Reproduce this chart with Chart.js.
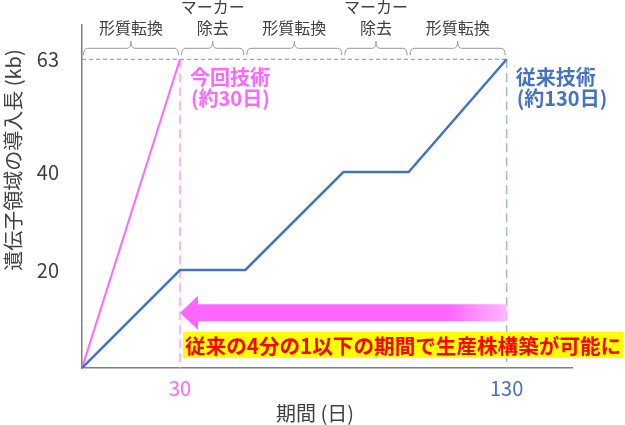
<!DOCTYPE html>
<html>
<head>
<meta charset="utf-8">
<script src="https://cdn.jsdelivr.net/npm/chart.js@4.4.0/dist/chart.umd.min.js"></script>
<style>
  html, body { margin: 0; padding: 0; background: #fff; }
  #wrap { width: 625px; height: 425px; }
</style>
</head>
<body>
<div id="wrap"><canvas id="chart"></canvas></div>
<script>
// data
const phaseDays = [0, 30, 50, 80, 100, 130];
const phaseLabels = [['形質転換'], ['マーカー', '除去'], ['形質転換'], ['マーカー', '除去'], ['形質転換']];
const newDays = [0, 30];
const newKb = [0, 63];
const oldDays = [0, 30, 50, 80, 100, 130];
const oldKb = [0, 20, 20, 40, 40, 63];
const yTicks = [20, 40, 63];
const xTicks = [30, 130];

const PINK = '#ff66ff';
const BLUE = '#4472c4';
const GREY = '#404040';
const FONT = "'Noto Sans CJK JP', 'Noto Sans', sans-serif";

// dashed guides, brackets, arrow and notes
const overlay = {
  id: 'overlay',
  beforeDatasetsDraw(chart) {
    const ctx = chart.ctx, x = chart.scales.x, y = chart.scales.y;
    const top = y.getPixelForValue(63), bottom = y.getPixelForValue(0);
    ctx.save();
    ctx.lineWidth = 1;
    ctx.strokeStyle = '#909090';
    ctx.setLineDash([4, 3]);
    ctx.beginPath();
    ctx.moveTo(x.getPixelForValue(0), top);
    ctx.lineTo(x.getPixelForValue(130), top);
    ctx.stroke();

    ctx.lineWidth = 1.5;
    ctx.setLineDash([9, 5]);
    [[30, '#ff9cff'], [130, '#9fb6df']].forEach(([d, c]) => {
      ctx.strokeStyle = c;
      ctx.beginPath();
      ctx.moveTo(x.getPixelForValue(d), top);
      ctx.lineTo(x.getPixelForValue(d), bottom);
      ctx.stroke();
    });
    ctx.restore();
  },
  afterDraw(chart) {
    const ctx = chart.ctx, x = chart.scales.x, y = chart.scales.y;
    const y63 = y.getPixelForValue(63);
    ctx.save();

    // phase brackets
    const lineY = y63 - 11, endY = y63 - 4, peakY = y63 - 18;
    ctx.strokeStyle = '#999';
    ctx.lineWidth = 1;
    ctx.font = '16px ' + FONT;
    ctx.fillStyle = GREY;
    ctx.textAlign = 'center';
    ctx.textBaseline = 'middle';
    for (let i = 0; i < phaseLabels.length; i++) {
      const x0 = x.getPixelForValue(phaseDays[i]) + 1.5;
      const x1 = x.getPixelForValue(phaseDays[i + 1]) - 1.5;
      const mid = (x0 + x1) / 2;
      ctx.beginPath();
      ctx.moveTo(x0, endY);
      ctx.quadraticCurveTo(x0, lineY, x0 + 4, lineY);
      ctx.lineTo(mid - 4, lineY);
      ctx.quadraticCurveTo(mid, lineY, mid, peakY);
      ctx.quadraticCurveTo(mid, lineY, mid + 4, lineY);
      ctx.lineTo(x1 - 4, lineY);
      ctx.quadraticCurveTo(x1, lineY, x1, endY);
      ctx.stroke();
      const lines = phaseLabels[i];
      lines.forEach((t, k) => {
        ctx.fillText(t, mid, y63 - 31 - (lines.length - 1 - k) * 21);
      });
    }

    // method labels
    ctx.textAlign = 'left';
    ctx.font = 'bold 20px ' + FONT;
    ctx.fillStyle = PINK;
    ctx.fillText('今回技術', x.getPixelForValue(30) + 10, y63 + 18);
    ctx.fillText('(約30日)', x.getPixelForValue(30) + 11, y63 + 39);
    ctx.fillStyle = BLUE;
    ctx.fillText('従来技術', x.getPixelForValue(130) + 9, y63 + 18);
    ctx.fillText('(約130日)', x.getPixelForValue(130) + 10, y63 + 39);

    // arrow from 130 back to 30
    const ax0 = x.getPixelForValue(30), ax1 = x.getPixelForValue(130);
    const ay = y.getPixelForValue(11.3);
    const grad = ctx.createLinearGradient(ax0, 0, ax1, 0);
    grad.addColorStop(0, PINK);
    grad.addColorStop(0.82, PINK);
    grad.addColorStop(1, '#ffb8ff');
    ctx.fillStyle = grad;
    ctx.beginPath();
    ctx.moveTo(ax0, ay);
    ctx.lineTo(ax0 + 18, ay - 17);
    ctx.lineTo(ax0 + 18, ay - 8.5);
    ctx.lineTo(ax1, ay - 8.5);
    ctx.lineTo(ax1, ay + 8.5);
    ctx.lineTo(ax0 + 18, ay + 8.5);
    ctx.lineTo(ax0 + 18, ay + 17);
    ctx.closePath();
    ctx.fill();

    // highlighted message
    const msg = '従来の4分の1以下の期間で生産株構築が可能に';
    const my = y.getPixelForValue(4.7);
    ctx.font = 'bold 20.6px ' + FONT;
    const w = ctx.measureText(msg).width;
    const mx = x.getPixelForValue(30) + 3;
    ctx.fillStyle = '#ffff00';
    ctx.fillRect(mx, my - 13, w + 4, 26);
    ctx.fillStyle = '#ff0000';
    ctx.fillText(msg, mx + 2, my + 1);

    // axis titles
    ctx.font = '20px ' + FONT;
    ctx.fillStyle = GREY;
    ctx.textAlign = 'center';
    ctx.fillText('期間 (日)', 315, 413);
    ctx.translate(13, 160);
    ctx.rotate(-Math.PI / 2);
    ctx.fillText('遺伝子領域の導入長 (kb)', 0, 0);
    ctx.restore();
  }
};

new Chart(document.getElementById('chart'), {
  type: 'line',
  data: {
    datasets: [
      {
        label: '従来技術',
        data: oldDays.map((d, i) => ({ x: d, y: oldKb[i] })),
        borderColor: BLUE,
        borderWidth: 2.5,
        pointRadius: 0,
        tension: 0
      },
      {
        label: '今回技術',
        data: newDays.map((d, i) => ({ x: d, y: newKb[i] })),
        borderColor: PINK,
        borderWidth: 2,
        pointRadius: 0,
        tension: 0
      }
    ]
  },
  options: {
    responsive: true,
    maintainAspectRatio: false,
    animation: false,
    layout: { padding: { top: 25, right: 53, left: 0, bottom: 0 } },
    plugins: { legend: { display: false }, tooltip: { enabled: false } },
    scales: {
      x: {
        type: 'linear',
        min: 0,
        max: 150,
        afterFit: s => { s.height = 57; s.paddingLeft = 0; s.paddingRight = 0; },
        afterBuildTicks: s => { s.ticks = xTicks.map(v => ({ value: v })); },
        grid: { display: false, drawTicks: false },
        border: { display: true, color: '#7f7f7f', width: 1.5 },
        ticks: {
          autoSkip: false,
          maxRotation: 0,
          padding: 8,
          font: { family: FONT, size: 20 },
          color: ctx => ctx.index === 0 ? PINK : BLUE
        }
      },
      y: {
        min: 0,
        max: 70,
        afterFit: s => { s.width = 82; s.paddingTop = 0; s.paddingBottom = 0; },
        afterBuildTicks: s => { s.ticks = yTicks.map(v => ({ value: v })); },
        grid: { display: false, drawTicks: false },
        border: { display: true, color: '#7f7f7f', width: 1.5 },
        ticks: {
          autoSkip: false,
          padding: 23,
          font: { family: FONT, size: 20 },
          color: GREY
        }
      }
    }
  },
  plugins: [overlay]
});
</script>
</body>
</html>
